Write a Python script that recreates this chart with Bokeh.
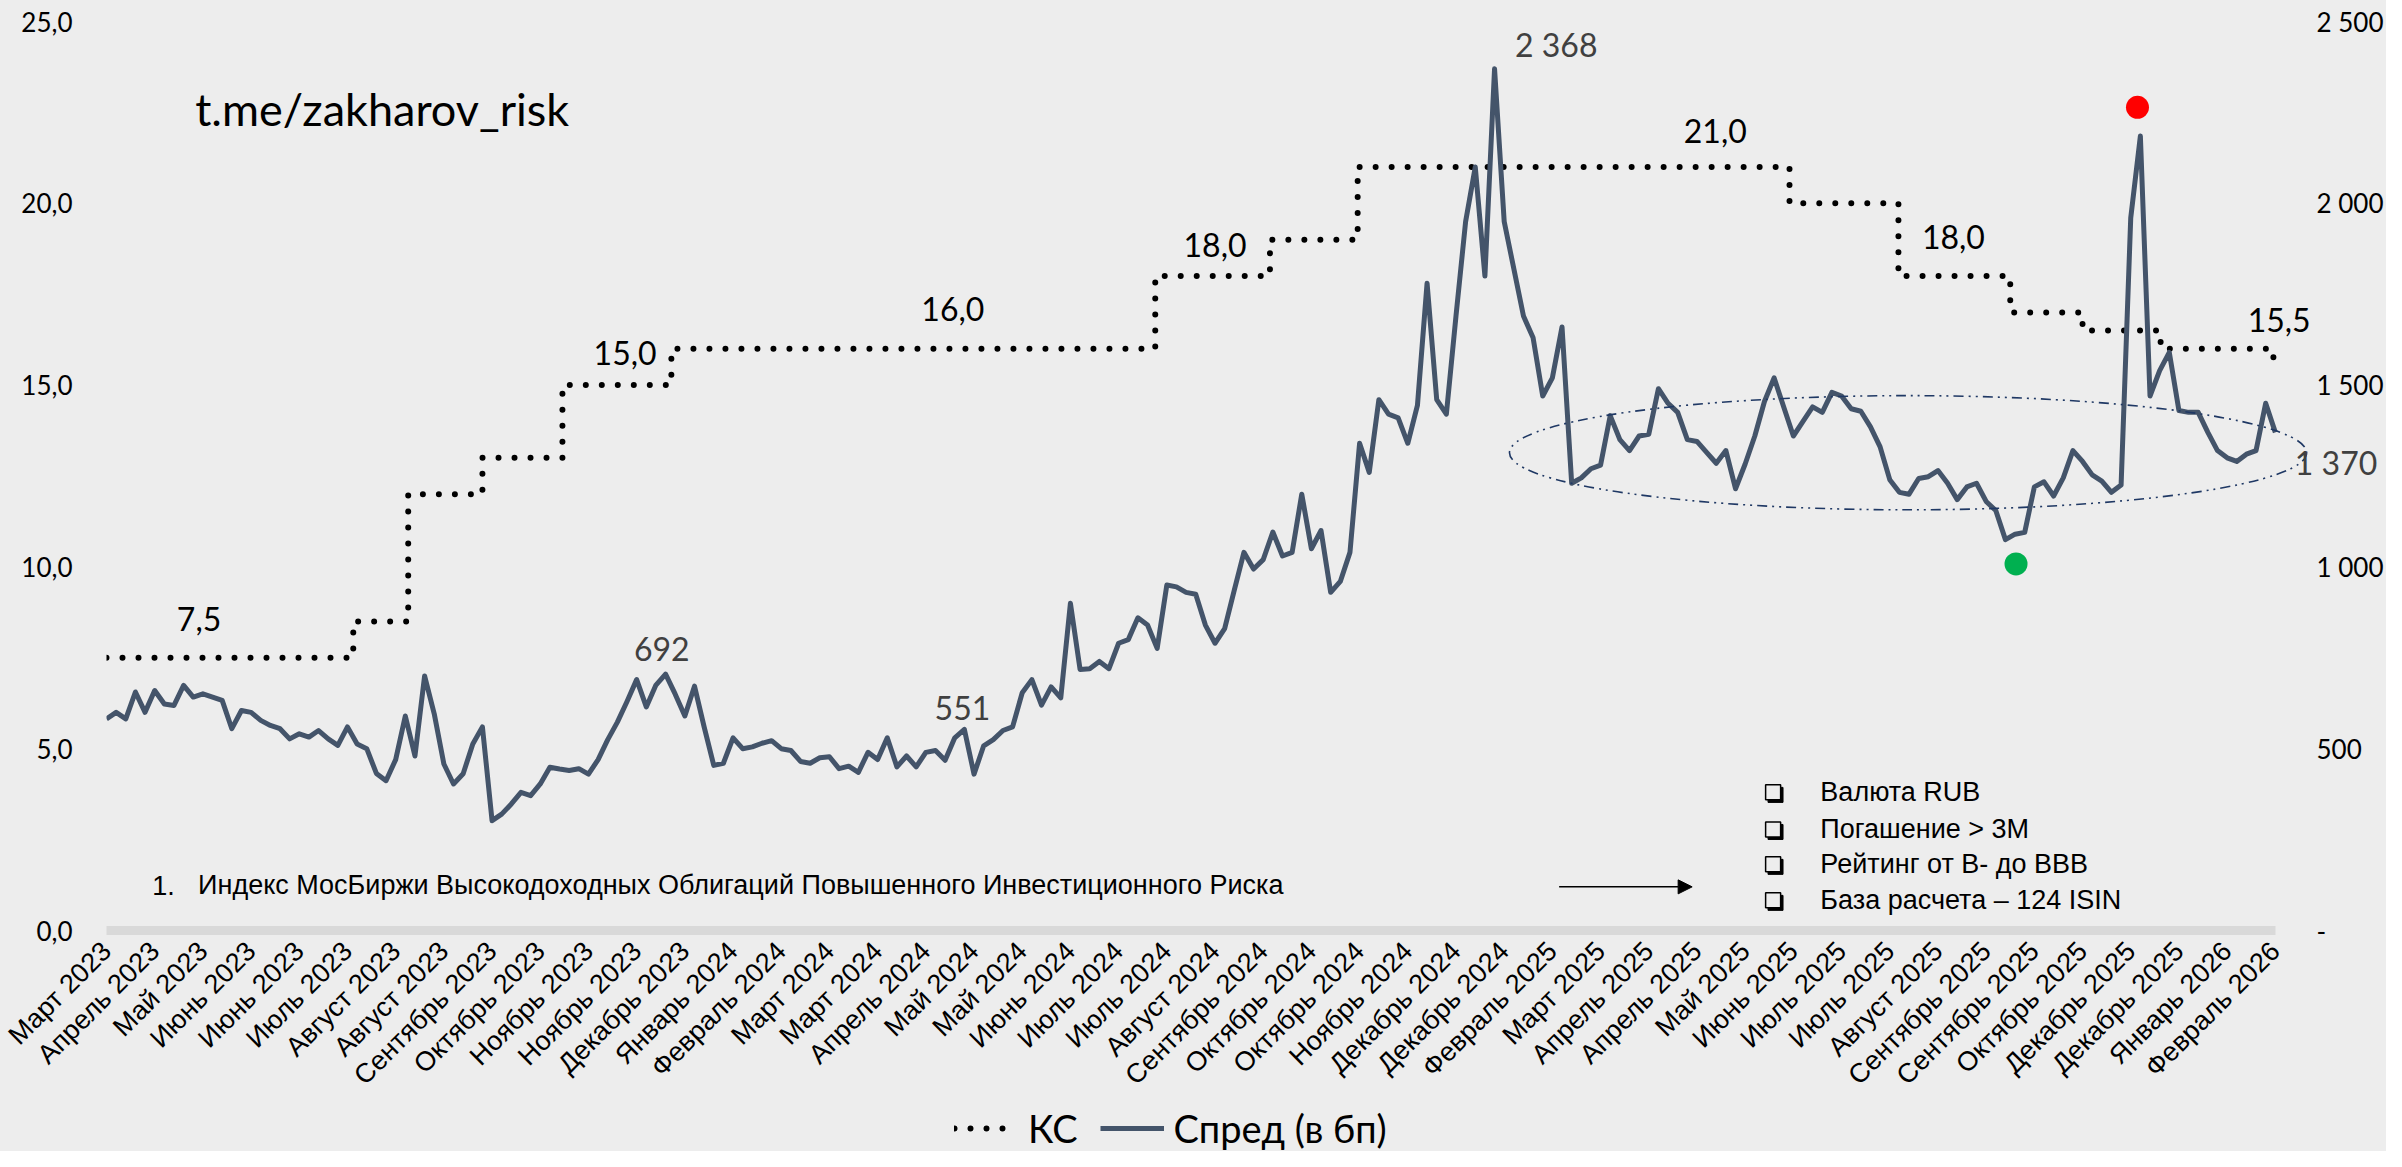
import math
from bokeh.plotting import figure
from bokeh.layouts import column
from bokeh.models import (Range1d, LinearAxis, FixedTicker, Label, Legend, LegendItem,
                          Arrow, NormalHead, ColumnDataSource)
from bokeh.embed import file_html
from bokeh.resources import INLINE

# ---------------- data ----------------
month_labels = ["Март 2023", "Апрель 2023", "Май 2023", "Июнь 2023", "Июнь 2023", "Июль 2023",
                "Август 2023", "Август 2023", "Сентябрь 2023", "Октябрь 2023", "Ноябрь 2023",
                "Ноябрь 2023", "Декабрь 2023", "Январь 2024", "Февраль 2024", "Март 2024",
                "Март 2024", "Апрель 2024", "Май 2024", "Май 2024", "Июнь 2024", "Июль 2024",
                "Июль 2024", "Август 2024", "Сентябрь 2024", "Октябрь 2024", "Октябрь 2024",
                "Ноябрь 2024", "Декабрь 2024", "Декабрь 2024", "Февраль 2025", "Март 2025",
                "Апрель 2025", "Апрель 2025", "Май 2025", "Июнь 2025", "Июль 2025", "Июль 2025",
                "Август 2025", "Сентябрь 2025", "Сентябрь 2025", "Октябрь 2025", "Декабрь 2025",
                "Декабрь 2025", "Январь 2026", "Февраль 2026"]
label_step = 5  # one label every 5 observations

spread_bp = [
    582, 600, 582, 656, 600, 660, 623, 619, 674, 642,
    651, 642, 633, 555, 605, 600, 578, 564, 555, 527,
    541, 532, 550, 527, 509, 560, 513, 500, 432, 412,
    470, 590, 480, 700, 596, 458, 403, 431, 513, 560,
    302, 320, 348, 380, 371, 403, 449, 444, 440, 445,
    430, 470, 525, 573, 630, 690, 615, 675, 705, 650,
    590, 672, 560, 454, 460, 530, 500, 505, 515, 522,
    500, 495, 465, 460, 475, 478, 445, 452, 435, 490,
    470, 530, 450, 480, 450, 490, 495, 468, 530, 553,
    430, 508, 525, 550, 560, 654, 690, 620, 670, 640,
    900, 718, 720, 740, 720, 790, 800, 860, 840, 776,
    950, 945, 930, 925, 840, 790, 830, 936, 1040, 994,
    1020, 1096, 1030, 1040, 1200, 1050, 1100, 930, 960, 1040,
    1340, 1260, 1460, 1420, 1410, 1340, 1444, 1780, 1460, 1420,
    1690, 1950, 2100, 1800, 2370, 1950, 1820, 1690, 1630, 1470,
    1520, 1660, 1230, 1245, 1270, 1280, 1416, 1350, 1320, 1360,
    1365, 1490, 1450, 1425, 1350, 1345, 1315, 1285, 1320, 1215,
    1283, 1360, 1455, 1520, 1440, 1360, 1400, 1440, 1425, 1480,
    1470, 1435, 1428, 1385, 1330, 1240, 1205, 1200, 1243, 1248,
    1265, 1230, 1185, 1220, 1230, 1180, 1155, 1075, 1090, 1095,
    1220, 1234, 1195, 1245, 1320, 1290, 1253, 1236, 1205, 1225,
    1960, 2185, 1470, 1540, 1590, 1430, 1425, 1425, 1370, 1320,
    1300, 1290, 1310, 1320, 1450, 1370,
]
obs_index = list(range(len(spread_bp)))
last_obs = obs_index[-1]

# key rate (КС): observation index where each level starts, and the level
ks_start = [0, 25.6, 31.3, 39.0, 47.3, 58.6, 108.8, 120.7, 129.8, 174.6, 185.9, 197.5, 205.0, 213.1, 224.8, 225.0]
ks_rate = [7.5, 8.5, 12.0, 13.0, 15.0, 16.0, 18.0, 19.0, 21.0, 20.0, 18.0, 17.0, 16.5, 16.0, 15.5, 15.5]

left_ticks = [0, 5, 10, 15, 20, 25]
left_tick_labels = ["0,0", "5,0", "10,0", "15,0", "20,0", "25,0"]
right_ticks = [0, 500, 1000, 1500, 2000, 2500]
right_tick_labels = ["-", "500", "1 000", "1 500", "2 000", "2 500"]

ks_label_text = ["7,5", "15,0", "16,0", "18,0", "21,0", "18,0", "15,5"]
ks_label_x = [9.6, 53.8, 87.8, 115.0, 166.9, 191.6, 225.4]
ks_label_y = [8.57, 15.87, 17.1, 18.84, 21.98, 19.06, 16.8]

spread_label_text = ["692", "551", "2 368", "1 370"]
spread_label_x = [57.6, 88.8, 150.4, 231.3]
spread_label_y = [7.74, 6.12, 24.37, 12.87]

bullet_text = ["Валюта RUB", "Погашение > 3М", "Рейтинг от В- до ВВВ", "База расчета – 124 ISIN"]
bullet_y = [3.80, 2.78, 1.82, 0.83]

# ---------------- main figure ----------------
BG = "#EDEDED"
X_END = 235.6    # frame reaches the right edge; last observation sits at 225
p = figure(width=2386, height=1106, output_backend="svg", toolbar_location=None,
           x_range=Range1d(0, X_END), y_range=Range1d(0, 25),
           min_border_left=106, min_border_right=0, min_border_top=21, min_border_bottom=176,
           background_fill_color=BG, border_fill_color=BG, outline_line_color=None)
p.extra_y_ranges = {"bp": Range1d(0, 2500)}
p.xgrid.visible = False
p.ygrid.visible = False

# x axis
tick_pos = [i * label_step for i in range(len(month_labels))]
p.xaxis.ticker = FixedTicker(ticks=tick_pos)
p.xaxis.bounds = (0, last_obs)
p.xaxis.major_label_overrides = {t: lab for t, lab in zip(tick_pos, month_labels)}
p.xaxis.major_label_orientation = math.pi / 4
p.xaxis.major_label_text_font = "Liberation Sans"
p.xaxis.major_label_text_font_size = "27px"
p.xaxis.major_label_text_color = "black"
p.xaxis.axis_line_color = "#D9D9D9"
p.xaxis.axis_line_width = 9
p.xaxis.major_tick_line_color = None
p.xaxis.minor_tick_line_color = None
p.xaxis.major_label_standoff = 10

# left axis
p.yaxis.ticker = FixedTicker(ticks=left_ticks)
p.yaxis.major_label_overrides = {t: lab for t, lab in zip(left_ticks, left_tick_labels)}
p.yaxis.major_label_text_font = "Lato"
p.yaxis.major_label_text_font_size = "26px"
p.yaxis.major_label_text_color = "black"
p.yaxis.axis_line_color = None
p.yaxis.major_tick_line_color = None
p.yaxis.minor_tick_line_color = None
p.yaxis.major_label_standoff = 28

# right axis (labels drawn back inside the extended frame)
ra = LinearAxis(y_range_name="bp", ticker=FixedTicker(ticks=right_ticks))
ra.major_label_overrides = {t: lab for t, lab in zip(right_ticks, right_tick_labels)}
ra.major_label_text_font = "Lato"
ra.major_label_text_font_size = "26px"
ra.major_label_text_color = "black"
ra.axis_line_color = None
ra.major_tick_line_color = None
ra.minor_tick_line_color = None
ra.major_label_standoff = -67
p.add_layout(ra, "right")

# ---------------- series ----------------
KS_STYLE = dict(line_color="black", line_width=6, line_dash="0 16", line_cap="round")
SP_STYLE = dict(line_color="#44546A", line_width=5, line_join="round")

ks_src = ColumnDataSource(data=dict(x=ks_start, y=ks_rate))
p.step("x", "y", source=ks_src, mode="after", **KS_STYLE)

sp_src = ColumnDataSource(data=dict(x=obs_index, y=spread_bp))
p.line("x", "y", source=sp_src, y_range_name="bp", **SP_STYLE)

# ellipse highlighting the range
p.ellipse(x=[186.9], y=[13.14], width=[82.7], height=[3.14], fill_alpha=0,
          line_color="#1F3864", line_width=1.6, line_dash="10 5 2 5 2 5")

# red / green markers
p.scatter(x=[210.7], y=[22.64], size=23, marker="circle", fill_color="#FF0000", line_color=None)
p.scatter(x=[198.1], y=[10.08], size=23, marker="circle", fill_color="#00B050", line_color=None)

# ---------------- labels ----------------
for t, x, y in zip(ks_label_text, ks_label_x, ks_label_y):
    p.add_layout(Label(x=x, y=y, text=t, text_font="Lato", text_font_size="32px",
                       text_color="black", text_align="center", text_baseline="middle"))
for t, x, y in zip(spread_label_text, spread_label_x, spread_label_y):
    p.add_layout(Label(x=x, y=y, text=t, text_font="Lato", text_font_size="32px",
                       text_color="#404040", text_align="center", text_baseline="middle"))

p.add_layout(Label(x=9.2, y=22.6, text="t.me/zakharov_risk", text_font="Lato",
                   text_font_size="45px", text_color="black", text_baseline="middle"))

p.add_layout(Label(x=4.75, y=1.24, text="1.", text_font="Liberation Sans",
                   text_font_size="27px", text_color="black", text_baseline="middle"))
p.add_layout(Label(x=9.5, y=1.24,
                   text="Индекс МосБиржи Высокодоходных Облигаций Повышенного Инвестиционного Риска",
                   text_font="Liberation Sans", text_font_size="27px", text_color="black",
                   text_baseline="middle"))

# bullet boxes (shadowed squares) and texts
p.scatter(x=[173.15] * 4, y=[v - 0.07 for v in bullet_y], size=15, marker="square",
          fill_color="black", line_color="black")
p.scatter(x=[172.9] * 4, y=bullet_y, size=15, marker="square",
          fill_color=BG, line_color="black", line_width=1.5)
for t, y in zip(bullet_text, bullet_y):
    p.add_layout(Label(x=177.8, y=y, text=t, text_font="Liberation Sans",
                       text_font_size="27px", text_color="black", text_baseline="middle"))

p.add_layout(Arrow(x_start=150.7, y_start=1.2, x_end=164.5, y_end=1.2, line_color="black",
                   line_width=1.5, end=NormalHead(size=14, fill_color="black", line_color="black")))

# ---------------- legend strip ----------------
pl = figure(width=2386, height=45, output_backend="svg", toolbar_location=None,
            x_range=Range1d(0, 1), y_range=Range1d(0, 1), x_axis_type=None, y_axis_type=None,
            min_border_left=0, min_border_right=0, min_border_top=0, min_border_bottom=0,
            background_fill_color=BG, border_fill_color=BG, outline_line_color=None)
pl.xgrid.visible = False
pl.ygrid.visible = False
# key glyphs only (placed outside the visible range of this strip)
ks_key = pl.step(x=[5, 6], y=[5, 5], mode="after", **KS_STYLE)
sp_key = pl.line(x=[5, 6], y=[5, 5], **SP_STYLE)
legend = Legend(items=[LegendItem(label="КС", renderers=[ks_key]),
                       LegendItem(label="Спред (в бп)", renderers=[sp_key])],
                orientation="horizontal", location=(848, 0),
                label_text_font="Lato", label_text_font_size="38px", label_text_color="black",
                background_fill_alpha=0, border_line_color=None, glyph_width=64,
                spacing=22, padding=0, margin=0, label_standoff=10)
pl.add_layout(legend)

layout = column(p, pl, spacing=0, styles={"background-color": BG})
open("out.html", "w").write(file_html(layout, INLINE))
